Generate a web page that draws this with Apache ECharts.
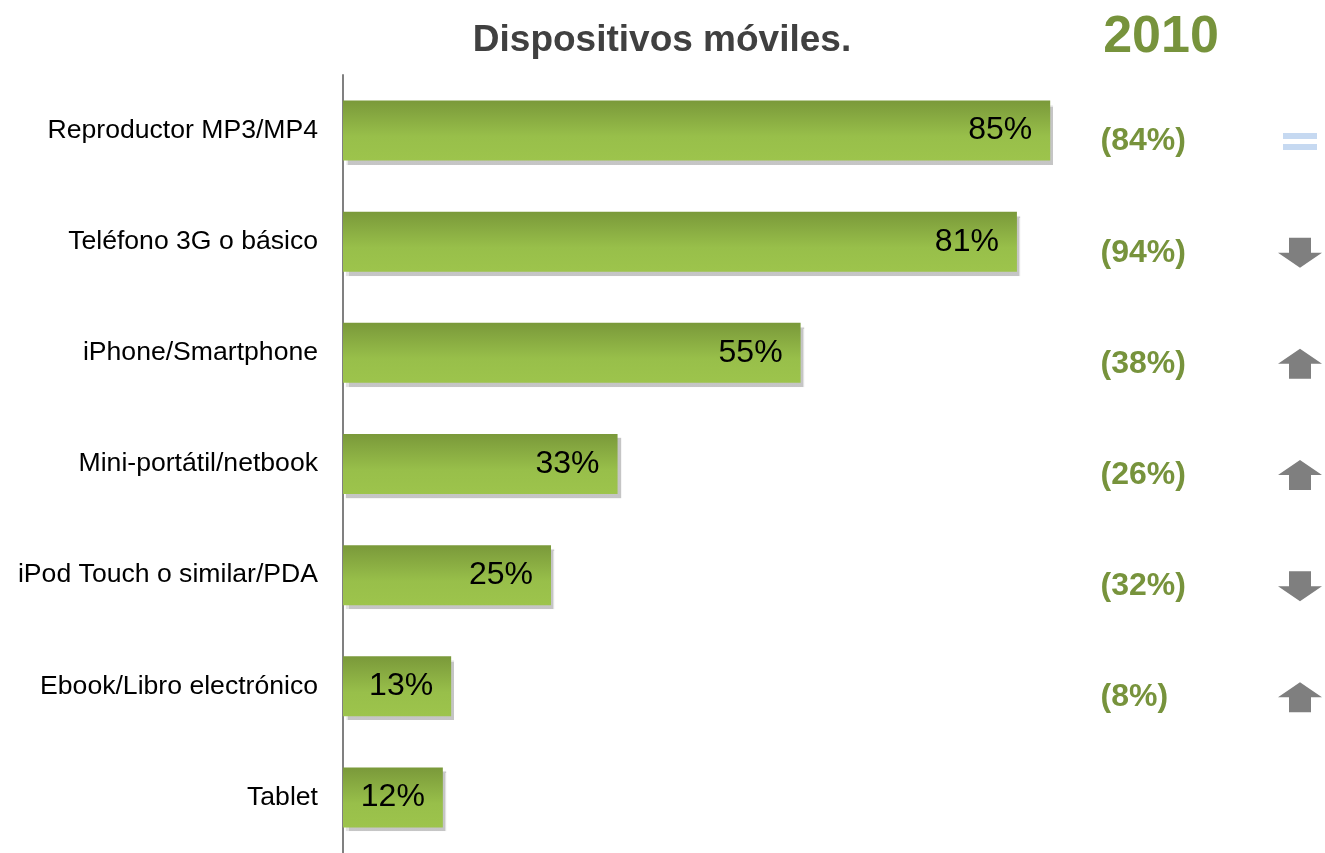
<!DOCTYPE html>
<html>
<head>
<meta charset="utf-8">
<script src="https://cdn.jsdelivr.net/npm/echarts@6/dist/echarts.min.js"></script>
<style>
  html, body { margin: 0; padding: 0; background: #fff; }
  #chart { width: 1325px; height: 853px; }
</style>
</head>
<body>
<div id="chart"></div>
<script>
  // datos
  var categories = ['Reproductor MP3/MP4', 'Teléfono 3G o básico', 'iPhone/Smartphone',
    'Mini-portátil/netbook', 'iPod Touch o similar/PDA', 'Ebook/Libro electrónico', 'Tablet'];
  var values2011 = [85, 81, 55, 33, 25, 13, 12];
  var values2010 = [84, 94, 38, 26, 32, 8, null];
  var trend = ['equal', 'down', 'up', 'up', 'down', 'up', null];

  var arrowDown = 'path://M11,0 L33,0 L33,15 L44,15 L22,30 L0,15 L11,15 Z';
  var arrowUp = 'path://M22,0 L44,15 L33,15 L33,30 L11,30 L11,15 L0,15 Z';
  var equalSign = 'path://M0,0 H34 V6 H0 Z M0,11 H34 V17 H0 Z';

  var prevData = [];
  var trendData = [];
  categories.forEach(function (c, i) {
    if (values2010[i] != null) prevData.push([0, c, values2010[i]]);
    if (trend[i]) {
      var eq = trend[i] == 'equal';
      trendData.push({
        value: [1, c, trend[i]],
        symbol: eq ? equalSign : (trend[i] == 'up' ? arrowUp : arrowDown),
        symbolSize: eq ? [34, 17] : [44, 30],
        itemStyle: { color: eq ? '#c6d9f1' : '#7f7f7f', opacity: 1 }
      });
    }
  });

  var myChart = echarts.init(document.getElementById('chart'));
  var option = {
    animation: false,
    title: [{
      text: 'Dispositivos móviles.',
      left: 657, top: 17, textAlign: 'center',
      textStyle: { fontFamily: 'Liberation Sans', fontSize: 37, fontWeight: 'bold', color: '#404040' }
    }, {
      text: '2010',
      left: 1156, top: 7, textAlign: 'center',
      textStyle: { fontFamily: 'Liberation Sans', fontSize: 52, fontWeight: 'bold', color: '#77933c' }
    }],
    grid: [
      { left: 343, top: 75, width: 832, height: 781 },
      { left: 1100, top: 75, width: 200, height: 781 }
    ],
    xAxis: [
      { type: 'value', min: 0, max: 100, show: false },
      { type: 'value', min: 0, max: 1, show: false, gridIndex: 1 }
    ],
    yAxis: [{
      type: 'category',
      data: categories,
      inverse: true,
      axisLine: { lineStyle: { color: '#808080', width: 2 } },
      axisTick: { show: false },
      axisLabel: { fontFamily: 'Liberation Sans', fontSize: 26.6, color: '#000', margin: 25 }
    }, {
      type: 'category', data: categories, inverse: true, show: false, gridIndex: 1
    }],
    series: [{
      type: 'bar',
      data: values2011,
      barWidth: 60,
      itemStyle: {
        color: new echarts.graphic.LinearGradient(0, 0, 0, 1, [
          { offset: 0, color: '#7a993a' },
          { offset: 0.6, color: '#98bf4a' },
          { offset: 1, color: '#9dc44c' }
        ]),
        shadowColor: 'rgba(140,140,140,0.5)',
        shadowOffsetX: 3,
        shadowOffsetY: 4,
        shadowBlur: 1
      },
      label: {
        show: true,
        position: 'insideRight',
        distance: 18,
        formatter: '{c}%',
        fontFamily: 'Liberation Sans',
        fontSize: 32,
        color: '#000'
      }
    }, {
      type: 'scatter',
      xAxisIndex: 1, yAxisIndex: 1,
      data: prevData,
      symbolSize: 1,
      itemStyle: { color: 'rgba(0,0,0,0)', opacity: 1 },
      label: {
        show: true,
        position: 'right',
        distance: 0,
        offset: [0, 11],
        formatter: function (p) { return '(' + p.value[2] + '%)'; },
        fontFamily: 'Liberation Sans',
        fontSize: 32,
        fontWeight: 'bold',
        color: '#77933c'
      }
    }, {
      type: 'scatter',
      xAxisIndex: 1, yAxisIndex: 1,
      data: trendData,
      symbolOffset: [0, 11]
    }]
  };
  myChart.setOption(option);
</script>
</body>
</html>
